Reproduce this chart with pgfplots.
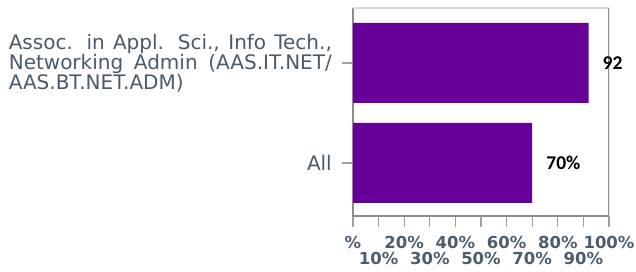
\documentclass[border=0pt]{standalone}
\usepackage{pgfplots}
\pgfplotsset{compat=1.18}
\usepackage{fontspec}
\setmainfont{DejaVu Sans}
\newfontfamily\labfont{Carlito}
\definecolor{barc}{HTML}{660099}
\definecolor{ylab}{HTML}{4A5A68}
\definecolor{xlab}{HTML}{4D5D6B}
\definecolor{spine}{HTML}{8C8C8C}
\definecolor{tickc}{HTML}{A0A0A0}
\begin{document}
\begin{tikzpicture}
\path[use as bounding box] (0pt,0pt) rectangle (636pt,272pt);
\begin{axis}[
  at={(353pt,56pt)}, anchor=south west,
  width=256pt, height=208pt, scale only axis,
  xmin=0, xmax=100, ymin=-0.53, ymax=1.55,
  axis x line*=bottom, axis y line*=left,
  x axis line style={draw=spine, line width=1.2pt, -},
  y axis line style={draw=spine, line width=2pt, -},
  xbar, bar width=80pt,
  ytick={0,1},
  yticklabels={All,{\parbox[c]{323pt}{\fontsize{20}{20}\selectfont Assoc. in Appl. Sci., Info Tech.,\linebreak Networking Admin (AAS.IT.NET/\linebreak AAS.BT.NET.ADM)}}},
  yticklabel style={font=\fontsize{20}{20}\selectfont, text=ylab, inner sep=0pt, xshift=-10pt},
  xtick={0,20,40,60,80,100},
  xticklabels={\%,20\%,40\%,60\%,80\%,100\%},
  extra x ticks={10,30,50,70,90},
  extra x tick labels={10\%,30\%,50\%,70\%,90\%},
  extra x tick style={tick label style={yshift=-16pt}},
  xticklabel style={font=\fontsize{16.5}{17}\selectfont\bfseries, text=xlab, inner sep=0pt, yshift=-9.5pt},
  /pgf/number format/assume math mode=true,
  tick align=outside, major tick length=11pt,
  tick style={draw=tickc, line width=1.1pt},
  point meta=explicit symbolic,
  nodes near coords,
  nodes near coords style={font=\labfont\fontsize{19.5}{20}\selectfont\bfseries, text=black, anchor=west, inner sep=0pt, xshift=14pt},
]
\addplot[fill=barc, draw=none] coordinates {(70,0) [70\%] (92,1) [92]};
\draw[draw=black!15, line width=1.1pt] (rel axis cs:0,1) -- (rel axis cs:1,1);
\draw[draw=spine, line width=1.2pt] (rel axis cs:1,0) -- (rel axis cs:1,1);
\end{axis}
\end{tikzpicture}
\end{document}
